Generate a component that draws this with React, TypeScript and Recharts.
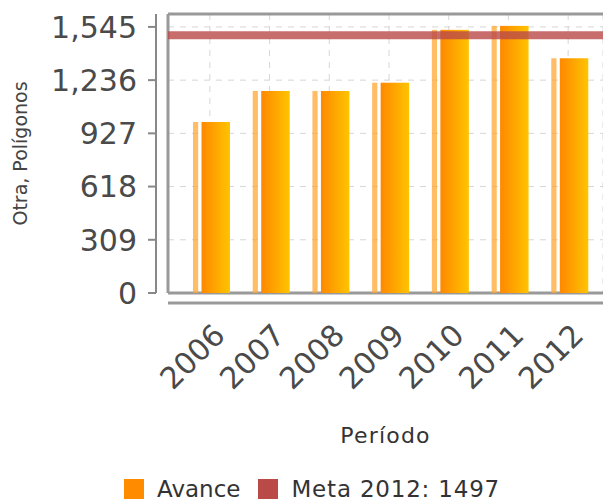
import React from "react";
import * as R from "recharts";

const { BarChart, Bar, XAxis, YAxis, CartesianGrid, ReferenceLine, Legend } = R;

const periodos = ["2006", "2007", "2008", "2009", "2010", "2011", "2012"];
const avance = [993, 1173, 1173, 1221, 1528, 1551, 1363];
const meta2012 = 1497;
const yTicks = [0, 309, 618, 927, 1236, 1545];
const legendNames = ["Avance", "Meta 2012: 1497"];
const legendColors = ["#ff8c00", "#b94a48"];

const data = periodos.map((p, i) => ({ periodo: p, avance: avance[i] }));

const FONT = "DejaVu Sans, Verdana, sans-serif";

function Frame() {
  const hook = (R as any).usePlotArea;
  const area = hook ? hook() : null;
  const { x, y, width, height } = area || { x: 168, y: 14, width: 435, height: 279 };
  const b = y + height;
  return (
    <g>
      <line x1={x} y1={y} x2={x + width} y2={y} stroke="#999" strokeWidth={3} />
      <line x1={x} y1={y} x2={x} y2={b} stroke="#999" strokeWidth={3} />
      <line x1={x} y1={b} x2={x + width} y2={b} stroke="#999" strokeWidth={3} />
      <line x1={x - 12} y1={y} x2={x - 12} y2={b} stroke="#888" strokeWidth={2} />
      <line x1={x} y1={b + 10} x2={x + width} y2={b + 10} stroke="#999" strokeWidth={3} />
    </g>
  );
}

function AvanceBar(props: any) {
  const { x, y, width, height } = props;
  if (!height || height <= 0) return null;
  const sliver = width * 0.14;
  const gap = width * 0.09;
  return (
    <g>
      <rect x={x + 2} y={y} width={sliver} height={height} fill="#ffa733" opacity={0.75} />
      <rect
        x={x + 2 + sliver + gap}
        y={y}
        width={width - sliver - gap}
        height={height}
        fill="url(#avanceGrad)"
      />
    </g>
  );
}

function YTick(props: any) {
  const { x, y, payload } = props;
  return (
    <g>
      <line x1={x + 11} y1={y} x2={x + 19} y2={y} stroke="#888" strokeWidth={2} />
      <text
        x={x}
        y={y}
        dy="0.36em"
        textAnchor="end"
        fontSize={30}
        fill="#4a4a4a"
        fontFamily={FONT}
      >
        {Number(payload.value).toLocaleString("en-US")}
      </text>
    </g>
  );
}

function XTick(props: any) {
  const { x, y, payload } = props;
  const ax = x + 17;
  const ay = y + 44;
  return (
    <text
      x={ax}
      y={ay}
      textAnchor="end"
      fontSize={30}
      fill="#4a4a4a"
      fontFamily={FONT}
      transform={`rotate(-45, ${ax}, ${ay})`}
    >
      {payload.value}
    </text>
  );
}

function YTitle(props: any) {
  const { viewBox } = props;
  const cy = viewBox.y + viewBox.height / 2;
  return (
    <text
      x={27}
      y={cy}
      textAnchor="middle"
      fontSize={19}
      fill="#444"
      fontFamily={FONT}
      transform={`rotate(-90, 27, ${cy})`}
    >
      Otra, Polígonos
    </text>
  );
}

function LegendBox() {
  return (
    <div style={{ display: "flex", alignItems: "center", fontFamily: FONT, fontSize: 23, color: "#333" }}>
      {legendNames.map((n, i) => (
        <div key={n} style={{ display: "flex", alignItems: "center", marginRight: 18 }}>
          <span style={{ width: 20, height: 20, background: legendColors[i], display: "inline-block", marginRight: 13 }} />
          <span style={{ letterSpacing: i === 1 ? 0.8 : 0 }}>{n}</span>
        </div>
      ))}
    </div>
  );
}

export default function App() {
  return (
    <div style={{ position: "absolute", left: 0, top: 0 }}>
      <BarChart
        width={603}
        height={504}
        data={data}
        margin={{ top: 14, right: 0, left: 0, bottom: 56 }}
        barSize={37}
      >
        <defs>
          <linearGradient id="avanceGrad" x1="0" y1="0" x2="1" y2="0">
            <stop offset="0%" stopColor="#ff8800" />
            <stop offset="100%" stopColor="#ffc400" />
          </linearGradient>
        </defs>
        <CartesianGrid stroke="#d6d6d6" strokeDasharray="6 6" />
        <Frame />
        <XAxis
          dataKey="periodo"
          height={155}
          padding={{ left: 12, right: 5 }}
          axisLine={false}
          tickLine={false}
          tickSize={0}
          tickMargin={0}
          interval={0}
          tick={<XTick />}
          label={{ value: "Período", position: "insideBottom", offset: 5, fontSize: 22, fill: "#333", fontFamily: FONT, letterSpacing: 1.2 }}
        />
        <YAxis
          width={168}
          domain={[0, 1620]}
          ticks={yTicks}
          axisLine={false}
          tickLine={false}
          tickSize={0}
          tickMargin={31}
          tick={<YTick />}
          label={{ content: <YTitle /> }}
        />
        <Bar dataKey="avance" name="Avance" fill="#ff8c00" shape={<AvanceBar />} isAnimationActive={false} />
        <ReferenceLine y={meta2012} stroke="#b94a48" strokeWidth={8} strokeOpacity={0.8} />
        <Legend
          layout="horizontal"
          verticalAlign="middle"
          align="center"
          wrapperStyle={{ top: 476, left: 124, width: 440 }}
          content={<LegendBox />}
        />
      </BarChart>
    </div>
  );
}
